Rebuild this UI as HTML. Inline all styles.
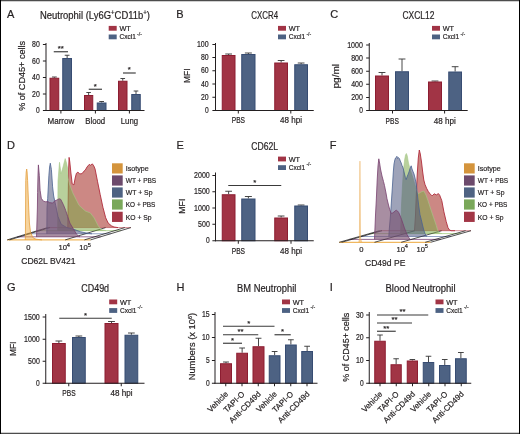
<!DOCTYPE html>
<html><head><meta charset="utf-8"><style>
html,body{margin:0;padding:0;background:#fff;}
body{width:520px;height:434px;overflow:hidden;position:relative;}
svg{position:absolute;left:0;top:0;will-change:transform;}
text{font-family:"Liberation Sans", sans-serif;stroke:#231f20;stroke-width:0.2px;paint-order:stroke;}
</style></head><body>
<svg width="520" height="434" viewBox="0 0 520 434">
<rect x="0" y="0" width="520" height="434" fill="#ffffff"/>
<line x1="7.20" y1="239.90" x2="90.50" y2="239.90" stroke="#f0b860" stroke-width="1.3"/>
<line x1="17.30" y1="236.82" x2="100.60" y2="236.82" stroke="#8a5a88" stroke-width="0.9"/>
<line x1="27.40" y1="233.74" x2="110.70" y2="233.74" stroke="#8a9ac0" stroke-width="0.9"/>
<line x1="37.50" y1="230.66" x2="120.80" y2="230.66" stroke="#b0d490" stroke-width="0.9"/>
<line x1="47.60" y1="227.58" x2="130.90" y2="227.58" stroke="#d08088" stroke-width="0.9"/>
<line x1="7.20" y1="239.90" x2="47.60" y2="227.58" stroke="#1a1a1a" stroke-width="0.75"/>
<line x1="9.50" y1="239.90" x2="49.90" y2="227.58" stroke="#1a1a1a" stroke-width="0.75"/>
<line x1="65.20" y1="239.90" x2="105.60" y2="227.58" stroke="#1a1a1a" stroke-width="0.75"/>
<line x1="84.40" y1="239.90" x2="124.80" y2="227.58" stroke="#1a1a1a" stroke-width="0.75"/>
<line x1="90.50" y1="239.90" x2="130.90" y2="227.58" stroke="#1a1a1a" stroke-width="0.75"/>
<path d="M67.80,227.60 L67.80,227.60 L68.20,200.00 L68.60,170.00 L69.10,157.40 L69.80,162.00 L70.80,172.00 L72.20,183.90 L73.90,184.80 L75.20,178.00 L76.40,173.30 L77.90,172.20 L79.60,173.70 L81.00,173.90 L82.40,173.30 L83.90,171.20 L85.30,170.10 L87.00,167.00 L89.20,164.40 L90.80,165.30 L92.30,163.80 L93.80,165.90 L95.10,169.10 L97.60,181.80 L100.20,194.50 L102.90,207.20 L105.70,217.80 L108.20,223.10 L111.40,225.80 L114.00,227.00 L118.00,227.60 L118.00,227.60 Z" fill="rgb(170,57,50)" fill-opacity="0.6" stroke="none"/><path d="M67.80,227.60 L68.20,200.00 L68.60,170.00 L69.10,157.40 L69.80,162.00 L70.80,172.00 L72.20,183.90 L73.90,184.80 L75.20,178.00 L76.40,173.30 L77.90,172.20 L79.60,173.70 L81.00,173.90 L82.40,173.30 L83.90,171.20 L85.30,170.10 L87.00,167.00 L89.20,164.40 L90.80,165.30 L92.30,163.80 L93.80,165.90 L95.10,169.10 L97.60,181.80 L100.20,194.50 L102.90,207.20 L105.70,217.80 L108.20,223.10 L111.40,225.80 L114.00,227.00 L118.00,227.60" fill="none" stroke="#b02c3c" stroke-width="0.9" stroke-opacity="1.0" stroke-linejoin="round"/>
<path d="M57.60,230.70 L57.60,230.70 L57.80,208.00 L58.00,181.00 L59.50,162.30 L61.10,173.80 L63.00,167.00 L65.20,158.60 L66.50,163.00 L67.50,168.00 L68.20,178.00 L69.50,184.00 L72.70,192.70 L79.00,205.30 L85.30,211.00 L90.40,213.00 L94.20,218.00 L98.00,225.60 L101.00,229.60 L106.00,230.70 L106.00,230.70 Z" fill="rgb(126,170,75)" fill-opacity="0.55" stroke="none"/><path d="M57.60,230.70 L57.80,208.00 L58.00,181.00 L59.50,162.30 L61.10,173.80 L63.00,167.00 L65.20,158.60 L66.50,163.00 L67.50,168.00 L68.20,178.00 L69.50,184.00 L72.70,192.70 L79.00,205.30 L85.30,211.00 L90.40,213.00 L94.20,218.00 L98.00,225.60 L101.00,229.60 L106.00,230.70" fill="none" stroke="#a6c98a" stroke-width="0.6" stroke-opacity="1.0" stroke-linejoin="round"/>
<path d="M46.80,233.80 L46.80,233.80 L47.00,208.00 L47.70,198.30 L48.90,175.30 L49.60,167.00 L50.30,163.20 L51.40,169.50 L52.60,186.80 L53.70,196.00 L54.90,201.80 L55.80,205.80 L58.00,216.60 L61.20,224.20 L66.60,227.50 L73.10,229.10 L80.70,231.80 L88.30,233.40 L92.00,233.80 L92.00,233.80 Z" fill="rgb(79,88,128)" fill-opacity="0.55" stroke="none"/><path d="M46.80,233.80 L47.00,208.00 L47.70,198.30 L48.90,175.30 L49.60,167.00 L50.30,163.20 L51.40,169.50 L52.60,186.80 L53.70,196.00 L54.90,201.80 L55.80,205.80 L58.00,216.60 L61.20,224.20 L66.60,227.50 L73.10,229.10 L80.70,231.80 L88.30,233.40 L92.00,233.80" fill="none" stroke="#4a6290" stroke-width="0.8" stroke-opacity="1.0" stroke-linejoin="round"/>
<path d="M36.50,236.90 L36.50,236.90 L37.40,208.00 L37.60,192.60 L38.00,175.00 L38.40,164.90 L39.30,175.30 L40.10,190.30 L41.30,198.30 L43.40,201.20 L45.70,201.80 L48.00,201.60 L49.30,202.60 L52.60,203.10 L54.70,201.00 L57.80,199.50 L59.10,198.80 L60.70,199.30 L63.40,204.70 L65.60,210.20 L67.70,216.60 L69.90,223.10 L73.10,228.50 L76.40,234.00 L78.50,236.10 L80.00,236.90 L80.00,236.90 Z" fill="rgb(121,81,112)" fill-opacity="0.65" stroke="none"/><path d="M36.50,236.90 L37.40,208.00 L37.60,192.60 L38.00,175.00 L38.40,164.90 L39.30,175.30 L40.10,190.30 L41.30,198.30 L43.40,201.20 L45.70,201.80 L48.00,201.60 L49.30,202.60 L52.60,203.10 L54.70,201.00 L57.80,199.50 L59.10,198.80 L60.70,199.30 L63.40,204.70 L65.60,210.20 L67.70,216.60 L69.90,223.10 L73.10,228.50 L76.40,234.00 L78.50,236.10 L80.00,236.90" fill="none" stroke="#77406f" stroke-width="0.8" stroke-opacity="1.0" stroke-linejoin="round"/>
<path d="M25.20,239.90 L25.20,239.90 L25.40,237.00 L25.75,180.50 L26.20,172.00 L26.70,169.00 L27.10,172.00 L27.60,180.50 L28.20,195.00 L28.70,208.00 L29.40,223.00 L30.50,232.00 L32.80,237.60 L36.00,239.20 L42.00,239.90 L42.00,239.90 Z" fill="rgb(240,170,60)" fill-opacity="0.5" stroke="none"/><path d="M25.20,239.90 L25.40,237.00 L25.75,180.50 L26.20,172.00 L26.70,169.00 L27.10,172.00 L27.60,180.50 L28.20,195.00 L28.70,208.00 L29.40,223.00 L30.50,232.00 L32.80,237.60 L36.00,239.20 L42.00,239.90" fill="none" stroke="#e3a040" stroke-width="0.8" stroke-opacity="1.0" stroke-linejoin="round"/>
<text x="28.3" y="250.0" font-size="7.6" text-anchor="middle" fill="#231f20" style="font-family:&quot;Liberation Sans&quot;, sans-serif">0</text>
<text x="64.2" y="250.0" font-size="7.6" text-anchor="middle" fill="#231f20" style="font-family:&quot;Liberation Sans&quot;, sans-serif">10<tspan font-size="5.6" dy="-3.2">4</tspan></text>
<text x="85.0" y="250.0" font-size="7.6" text-anchor="middle" fill="#231f20" style="font-family:&quot;Liberation Sans&quot;, sans-serif">10<tspan font-size="5.6" dy="-3.2">5</tspan></text>
<text x="21.25" y="264.3" font-size="9.5" textLength="54.3" lengthAdjust="spacingAndGlyphs" fill="#231f20" style="font-family:&quot;Liberation Sans&quot;, sans-serif">CD62L BV421</text>
<line x1="339.20" y1="242.30" x2="430.60" y2="242.30" stroke="#f0b860" stroke-width="1.3"/>
<line x1="349.30" y1="239.40" x2="440.70" y2="239.40" stroke="#8a5a88" stroke-width="0.9"/>
<line x1="359.40" y1="236.50" x2="450.80" y2="236.50" stroke="#8a9ac0" stroke-width="0.9"/>
<line x1="369.50" y1="233.60" x2="460.90" y2="233.60" stroke="#b0d490" stroke-width="0.9"/>
<line x1="379.60" y1="230.70" x2="471.00" y2="230.70" stroke="#d08088" stroke-width="0.9"/>
<line x1="339.20" y1="242.30" x2="379.60" y2="230.70" stroke="#1a1a1a" stroke-width="0.75"/>
<line x1="341.60" y1="242.30" x2="382.00" y2="230.70" stroke="#1a1a1a" stroke-width="0.75"/>
<line x1="374.50" y1="242.30" x2="414.90" y2="230.70" stroke="#1a1a1a" stroke-width="0.75"/>
<line x1="401.20" y1="242.30" x2="441.60" y2="230.70" stroke="#1a1a1a" stroke-width="0.75"/>
<line x1="425.20" y1="242.30" x2="465.60" y2="230.70" stroke="#1a1a1a" stroke-width="0.75"/>
<line x1="430.60" y1="242.30" x2="471.00" y2="230.70" stroke="#1a1a1a" stroke-width="0.75"/>
<path d="M414.50,230.70 L414.50,230.70 L415.50,215.00 L416.30,195.00 L417.20,175.00 L418.30,158.00 L419.30,150.00 L420.30,154.00 L421.50,162.00 L422.70,172.00 L423.80,180.00 L425.00,184.50 L426.60,188.30 L428.30,191.50 L430.00,193.80 L432.10,195.90 L434.20,193.80 L436.30,194.90 L438.40,193.60 L439.70,195.20 L441.80,200.70 L443.90,211.80 L446.20,221.50 L448.00,227.70 L449.40,229.80 L451.00,230.70 L455.00,230.70 L455.00,230.70 Z" fill="rgb(170,57,50)" fill-opacity="0.6" stroke="none"/><path d="M414.50,230.70 L415.50,215.00 L416.30,195.00 L417.20,175.00 L418.30,158.00 L419.30,150.00 L420.30,154.00 L421.50,162.00 L422.70,172.00 L423.80,180.00 L425.00,184.50 L426.60,188.30 L428.30,191.50 L430.00,193.80 L432.10,195.90 L434.20,193.80 L436.30,194.90 L438.40,193.60 L439.70,195.20 L441.80,200.70 L443.90,211.80 L446.20,221.50 L448.00,227.70 L449.40,229.80 L451.00,230.70 L455.00,230.70" fill="none" stroke="#b02c3c" stroke-width="0.9" stroke-opacity="1.0" stroke-linejoin="round"/>
<path d="M400.50,233.60 L400.50,233.60 L401.50,205.00 L402.50,185.00 L403.50,170.00 L404.60,160.00 L405.50,155.00 L406.40,153.50 L407.30,156.00 L408.30,162.00 L409.50,167.00 L411.00,172.00 L413.00,178.00 L415.00,185.00 L417.00,191.00 L418.30,193.80 L421.00,192.00 L423.80,191.00 L426.00,195.00 L428.00,200.70 L430.70,209.00 L433.50,217.30 L436.30,225.60 L437.70,230.50 L439.50,233.00 L442.00,233.60 L442.00,233.60 Z" fill="rgb(126,170,75)" fill-opacity="0.55" stroke="none"/><path d="M400.50,233.60 L401.50,205.00 L402.50,185.00 L403.50,170.00 L404.60,160.00 L405.50,155.00 L406.40,153.50 L407.30,156.00 L408.30,162.00 L409.50,167.00 L411.00,172.00 L413.00,178.00 L415.00,185.00 L417.00,191.00 L418.30,193.80 L421.00,192.00 L423.80,191.00 L426.00,195.00 L428.00,200.70 L430.70,209.00 L433.50,217.30 L436.30,225.60 L437.70,230.50 L439.50,233.00 L442.00,233.60" fill="none" stroke="#a6c98a" stroke-width="0.6" stroke-opacity="1.0" stroke-linejoin="round"/>
<path d="M388.80,236.50 L388.80,236.50 L389.30,229.00 L390.50,215.00 L391.50,200.00 L392.50,185.00 L393.30,172.00 L394.00,164.00 L394.80,160.00 L395.50,158.00 L396.20,157.50 L396.90,156.30 L397.60,158.50 L398.40,157.60 L399.40,158.50 L400.30,161.00 L401.20,163.00 L402.00,165.50 L402.80,167.00 L403.60,170.00 L404.50,174.00 L405.40,177.50 L406.20,179.60 L407.00,177.00 L408.00,174.50 L409.00,172.00 L410.20,168.00 L411.20,165.80 L412.00,169.00 L413.00,171.50 L414.00,174.00 L415.00,178.00 L416.25,184.00 L417.30,194.00 L418.75,206.00 L420.00,214.70 L421.25,219.50 L422.50,225.00 L423.75,230.00 L425.00,233.50 L426.50,236.50 L426.50,236.50 Z" fill="rgb(79,88,128)" fill-opacity="0.55" stroke="none"/><path d="M388.80,236.50 L389.30,229.00 L390.50,215.00 L391.50,200.00 L392.50,185.00 L393.30,172.00 L394.00,164.00 L394.80,160.00 L395.50,158.00 L396.20,157.50 L396.90,156.30 L397.60,158.50 L398.40,157.60 L399.40,158.50 L400.30,161.00 L401.20,163.00 L402.00,165.50 L402.80,167.00 L403.60,170.00 L404.50,174.00 L405.40,177.50 L406.20,179.60 L407.00,177.00 L408.00,174.50 L409.00,172.00 L410.20,168.00 L411.20,165.80 L412.00,169.00 L413.00,171.50 L414.00,174.00 L415.00,178.00 L416.25,184.00 L417.30,194.00 L418.75,206.00 L420.00,214.70 L421.25,219.50 L422.50,225.00 L423.75,230.00 L425.00,233.50 L426.50,236.50" fill="none" stroke="#4a6290" stroke-width="0.8" stroke-opacity="1.0" stroke-linejoin="round"/>
<path d="M374.50,239.40 L374.50,239.40 L374.80,232.00 L375.50,215.00 L376.30,200.00 L377.20,180.00 L378.00,166.00 L378.80,158.80 L379.60,163.00 L380.50,169.00 L382.00,176.00 L383.50,181.50 L384.50,185.50 L386.00,193.00 L387.00,198.80 L388.50,205.00 L389.80,209.90 L391.20,213.40 L392.50,213.00 L394.00,212.00 L395.50,210.60 L396.50,210.30 L397.50,211.00 L398.80,212.70 L400.20,216.00 L401.60,219.60 L403.00,223.70 L404.40,227.90 L405.80,231.50 L407.10,234.80 L409.20,238.20 L410.50,239.40 L410.50,239.40 Z" fill="rgb(121,81,112)" fill-opacity="0.65" stroke="none"/><path d="M374.50,239.40 L374.80,232.00 L375.50,215.00 L376.30,200.00 L377.20,180.00 L378.00,166.00 L378.80,158.80 L379.60,163.00 L380.50,169.00 L382.00,176.00 L383.50,181.50 L384.50,185.50 L386.00,193.00 L387.00,198.80 L388.50,205.00 L389.80,209.90 L391.20,213.40 L392.50,213.00 L394.00,212.00 L395.50,210.60 L396.50,210.30 L397.50,211.00 L398.80,212.70 L400.20,216.00 L401.60,219.60 L403.00,223.70 L404.40,227.90 L405.80,231.50 L407.10,234.80 L409.20,238.20 L410.50,239.40" fill="none" stroke="#77406f" stroke-width="0.8" stroke-opacity="1.0" stroke-linejoin="round"/>
<path d="M358.80,242.30 L358.80,242.30 L359.40,238.00 L359.70,200.00 L359.95,161.10 L360.20,200.00 L360.50,238.00 L361.50,241.50 L362.50,242.30 L362.50,242.30 Z" fill="rgb(240,170,60)" fill-opacity="0.5" stroke="none"/><path d="M358.80,242.30 L359.40,238.00 L359.70,200.00 L359.95,161.10 L360.20,200.00 L360.50,238.00 L361.50,241.50 L362.50,242.30" fill="none" stroke="#eab060" stroke-width="0.5" stroke-opacity="1.0" stroke-linejoin="round"/>
<text x="361.3" y="251.6" font-size="7.6" text-anchor="middle" fill="#231f20" style="font-family:&quot;Liberation Sans&quot;, sans-serif">0</text>
<text x="402.2" y="251.6" font-size="7.6" text-anchor="middle" fill="#231f20" style="font-family:&quot;Liberation Sans&quot;, sans-serif">10<tspan font-size="5.6" dy="-3.2">4</tspan></text>
<text x="422.2" y="251.6" font-size="7.6" text-anchor="middle" fill="#231f20" style="font-family:&quot;Liberation Sans&quot;, sans-serif">10<tspan font-size="5.6" dy="-3.2">5</tspan></text>
<text x="365" y="265.8" font-size="9.5" textLength="40.4" lengthAdjust="spacingAndGlyphs" fill="#231f20" style="font-family:&quot;Liberation Sans&quot;, sans-serif">CD49d PE</text>
<text x="7.0" y="18.0" font-size="11" fill="#231f20" style="font-family:"Liberation Sans", sans-serif">A</text>
<text x="176.3" y="18.0" font-size="11" fill="#231f20" style="font-family:"Liberation Sans", sans-serif">B</text>
<text x="330.3" y="18.0" font-size="11" fill="#231f20" style="font-family:"Liberation Sans", sans-serif">C</text>
<text x="7.0" y="148.6" font-size="11" fill="#231f20" style="font-family:"Liberation Sans", sans-serif">D</text>
<text x="176.4" y="148.6" font-size="11" fill="#231f20" style="font-family:"Liberation Sans", sans-serif">E</text>
<text x="329.8" y="148.6" font-size="11" fill="#231f20" style="font-family:"Liberation Sans", sans-serif">F</text>
<text x="7.0" y="291.4" font-size="11" fill="#231f20" style="font-family:"Liberation Sans", sans-serif">G</text>
<text x="176.4" y="291.4" font-size="11" fill="#231f20" style="font-family:"Liberation Sans", sans-serif">H</text>
<text x="329.8" y="291.4" font-size="11" fill="#231f20" style="font-family:"Liberation Sans", sans-serif">I</text>
<text x="40" y="18.8" font-size="10" textLength="110" lengthAdjust="spacingAndGlyphs" fill="#231f20" style="font-family:"Liberation Sans", sans-serif">Neutrophil (Ly6G<tspan font-size="6.5" dy="-3.5">+</tspan><tspan dy="3.5">CD11b</tspan><tspan font-size="6.5" dy="-3.5">+</tspan><tspan dy="3.5">)</tspan></text>
<rect x="108.7" y="25.9" width="8" height="4.8" fill="#a13445"/>
<rect x="108.7" y="34.5" width="8" height="4.8" fill="#4d6283"/>
<text x="119.4" y="30.9" font-size="7.3" fill="#231f20" style="font-family:"Liberation Sans", sans-serif">WT</text>
<text x="119.4" y="39.099999999999994" font-size="7.3" textLength="16.4" lengthAdjust="spacingAndGlyphs" fill="#231f20" style="font-family:"Liberation Sans", sans-serif">Cxcl1</text>
<text x="137.1" y="35.5" font-size="4.6" textLength="4.8" lengthAdjust="spacingAndGlyphs" fill="#555" style="font-family:"Liberation Sans", sans-serif">-/-</text>
<text transform="translate(24.9,75.85) rotate(-90)" x="0" y="0" font-size="9.8" text-anchor="middle" textLength="70" lengthAdjust="spacingAndGlyphs" fill="#231f20" style="font-family:"Liberation Sans", sans-serif">% of CD45+ cells</text>
<line x1="46" y1="43" x2="46" y2="111.0" stroke="#231f20" stroke-width="1"/>
<line x1="42.9" y1="44.5" x2="46" y2="44.5" stroke="#231f20" stroke-width="1"/>
<text x="39.8" y="47.0" font-size="8.4" text-anchor="end" textLength="7.7" lengthAdjust="spacingAndGlyphs" fill="#231f20" style="font-family:"Liberation Sans", sans-serif">80</text>
<line x1="42.9" y1="61" x2="46" y2="61" stroke="#231f20" stroke-width="1"/>
<text x="39.8" y="63.5" font-size="8.4" text-anchor="end" textLength="7.7" lengthAdjust="spacingAndGlyphs" fill="#231f20" style="font-family:"Liberation Sans", sans-serif">60</text>
<line x1="42.9" y1="77.5" x2="46" y2="77.5" stroke="#231f20" stroke-width="1"/>
<text x="39.8" y="80.0" font-size="8.4" text-anchor="end" textLength="7.7" lengthAdjust="spacingAndGlyphs" fill="#231f20" style="font-family:"Liberation Sans", sans-serif">40</text>
<line x1="42.9" y1="94" x2="46" y2="94" stroke="#231f20" stroke-width="1"/>
<text x="39.8" y="96.5" font-size="8.4" text-anchor="end" textLength="7.7" lengthAdjust="spacingAndGlyphs" fill="#231f20" style="font-family:"Liberation Sans", sans-serif">20</text>
<line x1="42.9" y1="110.5" x2="46" y2="110.5" stroke="#231f20" stroke-width="1"/>
<text x="39.8" y="113.0" font-size="8.4" text-anchor="end" textLength="3.7" lengthAdjust="spacingAndGlyphs" fill="#231f20" style="font-family:"Liberation Sans", sans-serif">0</text>
<line x1="54.375" y1="77.75" x2="54.375" y2="77" stroke="#333" stroke-width="0.9"/>
<line x1="51.98625" y1="77" x2="56.76375" y2="77" stroke="#333" stroke-width="0.9"/>
<rect x="50.0" y="78.25" width="8.75" height="32.25" fill="#a13445" stroke="#8c1d31" stroke-width="1"/>
<line x1="67.125" y1="58" x2="67.125" y2="55.25" stroke="#333" stroke-width="0.9"/>
<line x1="64.73625" y1="55.25" x2="69.51375" y2="55.25" stroke="#333" stroke-width="0.9"/>
<rect x="62.75" y="58.5" width="8.75" height="52.0" fill="#4d6283" stroke="#374c72" stroke-width="1"/>
<line x1="88.625" y1="95" x2="88.625" y2="92.5" stroke="#333" stroke-width="0.9"/>
<line x1="86.35875" y1="92.5" x2="90.89125" y2="92.5" stroke="#333" stroke-width="0.9"/>
<rect x="84.5" y="95.5" width="8.25" height="15.0" fill="#a13445" stroke="#8c1d31" stroke-width="1"/>
<line x1="101.625" y1="102.5" x2="101.625" y2="101.5" stroke="#333" stroke-width="0.9"/>
<line x1="99.23625" y1="101.5" x2="104.01375" y2="101.5" stroke="#333" stroke-width="0.9"/>
<rect x="97.25" y="103.0" width="8.75" height="7.5" fill="#4d6283" stroke="#374c72" stroke-width="1"/>
<line x1="122.75" y1="80.75" x2="122.75" y2="78.5" stroke="#333" stroke-width="0.9"/>
<line x1="120.4225" y1="78.5" x2="125.0775" y2="78.5" stroke="#333" stroke-width="0.9"/>
<rect x="118.5" y="81.25" width="8.5" height="29.25" fill="#a13445" stroke="#8c1d31" stroke-width="1"/>
<line x1="136.0" y1="94" x2="136.0" y2="91" stroke="#333" stroke-width="0.9"/>
<line x1="133.6725" y1="91" x2="138.3275" y2="91" stroke="#333" stroke-width="0.9"/>
<rect x="131.75" y="94.5" width="8.5" height="16.0" fill="#4d6283" stroke="#374c72" stroke-width="1"/>
<line x1="45.5" y1="110.5" x2="144.5" y2="110.5" stroke="#231f20" stroke-width="1"/>
<line x1="60.9" y1="110.5" x2="60.9" y2="113.5" stroke="#231f20" stroke-width="1"/>
<line x1="95.4" y1="110.5" x2="95.4" y2="113.5" stroke="#231f20" stroke-width="1"/>
<line x1="129.4" y1="110.5" x2="129.4" y2="113.5" stroke="#231f20" stroke-width="1"/>
<text x="60.9" y="123.8" font-size="8.5" text-anchor="middle" textLength="26.8" lengthAdjust="spacingAndGlyphs" fill="#231f20" style="font-family:"Liberation Sans", sans-serif">Marrow</text>
<text x="95.2" y="123.8" font-size="8.5" text-anchor="middle" textLength="20" lengthAdjust="spacingAndGlyphs" fill="#231f20" style="font-family:"Liberation Sans", sans-serif">Blood</text>
<text x="129.4" y="123.8" font-size="8.5" text-anchor="middle" textLength="17.3" lengthAdjust="spacingAndGlyphs" fill="#231f20" style="font-family:"Liberation Sans", sans-serif">Lung</text>
<line x1="53.75" y1="51.75" x2="68" y2="51.75" stroke="#3a3a3a" stroke-width="1.15"/>
<text x="60.875" y="51.15" font-size="7.8" text-anchor="middle" fill="#231f20" style="font-family:"Liberation Sans", sans-serif">**</text>
<line x1="88.75" y1="89.25" x2="102" y2="89.25" stroke="#3a3a3a" stroke-width="1.15"/>
<text x="95.375" y="88.65" font-size="7.8" text-anchor="middle" fill="#231f20" style="font-family:"Liberation Sans", sans-serif">*</text>
<line x1="123" y1="73" x2="135.75" y2="73" stroke="#3a3a3a" stroke-width="1.15"/>
<text x="129.375" y="72.4" font-size="7.8" text-anchor="middle" fill="#231f20" style="font-family:"Liberation Sans", sans-serif">*</text>
<text x="251.25" y="18.9" font-size="10.0" textLength="26.8" lengthAdjust="spacingAndGlyphs" fill="#231f20" style="font-family:"Liberation Sans", sans-serif">CXCR4</text>
<rect x="278" y="25.9" width="8" height="4.8" fill="#a13445"/>
<rect x="278" y="34.5" width="8" height="4.8" fill="#4d6283"/>
<text x="288.7" y="30.9" font-size="7.3" fill="#231f20" style="font-family:"Liberation Sans", sans-serif">WT</text>
<text x="288.7" y="39.099999999999994" font-size="7.3" textLength="16.4" lengthAdjust="spacingAndGlyphs" fill="#231f20" style="font-family:"Liberation Sans", sans-serif">Cxcl1</text>
<text x="306.4" y="35.5" font-size="4.6" textLength="4.8" lengthAdjust="spacingAndGlyphs" fill="#555" style="font-family:"Liberation Sans", sans-serif">-/-</text>
<text transform="translate(189.9,75.75) rotate(-90)" x="0" y="0" font-size="9.4" text-anchor="middle" textLength="14.5" lengthAdjust="spacingAndGlyphs" fill="#231f20" style="font-family:"Liberation Sans", sans-serif">MFI</text>
<line x1="215.5" y1="43" x2="215.5" y2="111.0" stroke="#231f20" stroke-width="1"/>
<line x1="212.4" y1="44.5" x2="215.5" y2="44.5" stroke="#231f20" stroke-width="1"/>
<text x="208.6" y="47.0" font-size="8.4" text-anchor="end" textLength="11.7" lengthAdjust="spacingAndGlyphs" fill="#231f20" style="font-family:"Liberation Sans", sans-serif">100</text>
<line x1="212.4" y1="57.5" x2="215.5" y2="57.5" stroke="#231f20" stroke-width="1"/>
<text x="208.6" y="60.0" font-size="8.4" text-anchor="end" textLength="7.7" lengthAdjust="spacingAndGlyphs" fill="#231f20" style="font-family:"Liberation Sans", sans-serif">80</text>
<line x1="212.4" y1="70.75" x2="215.5" y2="70.75" stroke="#231f20" stroke-width="1"/>
<text x="208.6" y="73.25" font-size="8.4" text-anchor="end" textLength="7.7" lengthAdjust="spacingAndGlyphs" fill="#231f20" style="font-family:"Liberation Sans", sans-serif">60</text>
<line x1="212.4" y1="84" x2="215.5" y2="84" stroke="#231f20" stroke-width="1"/>
<text x="208.6" y="86.5" font-size="8.4" text-anchor="end" textLength="7.7" lengthAdjust="spacingAndGlyphs" fill="#231f20" style="font-family:"Liberation Sans", sans-serif">40</text>
<line x1="212.4" y1="97.25" x2="215.5" y2="97.25" stroke="#231f20" stroke-width="1"/>
<text x="208.6" y="99.75" font-size="8.4" text-anchor="end" textLength="7.7" lengthAdjust="spacingAndGlyphs" fill="#231f20" style="font-family:"Liberation Sans", sans-serif">20</text>
<line x1="212.4" y1="110.5" x2="215.5" y2="110.5" stroke="#231f20" stroke-width="1"/>
<text x="208.6" y="113.0" font-size="8.4" text-anchor="end" textLength="3.7" lengthAdjust="spacingAndGlyphs" fill="#231f20" style="font-family:"Liberation Sans", sans-serif">0</text>
<line x1="228.625" y1="55" x2="228.625" y2="54" stroke="#333" stroke-width="0.9"/>
<line x1="225.25625" y1="54" x2="231.99375" y2="54" stroke="#333" stroke-width="0.9"/>
<rect x="222.25" y="55.5" width="12.75" height="55.0" fill="#a13445" stroke="#8c1d31" stroke-width="1"/>
<line x1="248.375" y1="54" x2="248.375" y2="53" stroke="#333" stroke-width="0.9"/>
<line x1="244.88375" y1="53" x2="251.86625" y2="53" stroke="#333" stroke-width="0.9"/>
<rect x="241.75" y="54.5" width="13.25" height="56.0" fill="#4d6283" stroke="#374c72" stroke-width="1"/>
<line x1="281.125" y1="62.5" x2="281.125" y2="60.5" stroke="#333" stroke-width="0.9"/>
<line x1="277.75625" y1="60.5" x2="284.49375" y2="60.5" stroke="#333" stroke-width="0.9"/>
<rect x="274.75" y="63.0" width="12.75" height="47.5" fill="#a13445" stroke="#8c1d31" stroke-width="1"/>
<line x1="301.125" y1="64.25" x2="301.125" y2="63" stroke="#333" stroke-width="0.9"/>
<line x1="297.75625" y1="63" x2="304.49375" y2="63" stroke="#333" stroke-width="0.9"/>
<rect x="294.75" y="64.75" width="12.75" height="45.75" fill="#4d6283" stroke="#374c72" stroke-width="1"/>
<line x1="215.0" y1="110.5" x2="313.75" y2="110.5" stroke="#231f20" stroke-width="1"/>
<line x1="238.3" y1="110.5" x2="238.3" y2="113.5" stroke="#231f20" stroke-width="1"/>
<line x1="290.8" y1="110.5" x2="290.8" y2="113.5" stroke="#231f20" stroke-width="1"/>
<text x="238.4" y="123.3" font-size="8.5" text-anchor="middle" textLength="13.3" lengthAdjust="spacingAndGlyphs" fill="#231f20" style="font-family:"Liberation Sans", sans-serif">PBS</text>
<text x="291" y="123.3" font-size="8.5" text-anchor="middle" textLength="22" lengthAdjust="spacingAndGlyphs" fill="#231f20" style="font-family:"Liberation Sans", sans-serif">48 hpi</text>
<text x="402.5" y="18.9" font-size="10.0" textLength="32" lengthAdjust="spacingAndGlyphs" fill="#231f20" style="font-family:"Liberation Sans", sans-serif">CXCL12</text>
<rect x="432" y="25.9" width="8" height="4.8" fill="#a13445"/>
<rect x="432" y="34.5" width="8" height="4.8" fill="#4d6283"/>
<text x="442.7" y="30.9" font-size="7.3" fill="#231f20" style="font-family:"Liberation Sans", sans-serif">WT</text>
<text x="442.7" y="39.099999999999994" font-size="7.3" textLength="16.4" lengthAdjust="spacingAndGlyphs" fill="#231f20" style="font-family:"Liberation Sans", sans-serif">Cxcl1</text>
<text x="460.4" y="35.5" font-size="4.6" textLength="4.8" lengthAdjust="spacingAndGlyphs" fill="#555" style="font-family:"Liberation Sans", sans-serif">-/-</text>
<text transform="translate(338.9,76.25) rotate(-90)" x="0" y="0" font-size="9" text-anchor="middle" textLength="24.5" lengthAdjust="spacingAndGlyphs" fill="#231f20" style="font-family:"Liberation Sans", sans-serif">pg/ml</text>
<line x1="369.25" y1="43" x2="369.25" y2="111.0" stroke="#231f20" stroke-width="1"/>
<line x1="366.15" y1="45" x2="369.25" y2="45" stroke="#231f20" stroke-width="1"/>
<text x="362.9" y="47.5" font-size="8.4" text-anchor="end" textLength="15.7" lengthAdjust="spacingAndGlyphs" fill="#231f20" style="font-family:"Liberation Sans", sans-serif">1000</text>
<line x1="366.15" y1="58" x2="369.25" y2="58" stroke="#231f20" stroke-width="1"/>
<text x="362.9" y="60.5" font-size="8.4" text-anchor="end" textLength="11.7" lengthAdjust="spacingAndGlyphs" fill="#231f20" style="font-family:"Liberation Sans", sans-serif">800</text>
<line x1="366.15" y1="71.25" x2="369.25" y2="71.25" stroke="#231f20" stroke-width="1"/>
<text x="362.9" y="73.75" font-size="8.4" text-anchor="end" textLength="11.7" lengthAdjust="spacingAndGlyphs" fill="#231f20" style="font-family:"Liberation Sans", sans-serif">600</text>
<line x1="366.15" y1="84.25" x2="369.25" y2="84.25" stroke="#231f20" stroke-width="1"/>
<text x="362.9" y="86.75" font-size="8.4" text-anchor="end" textLength="11.7" lengthAdjust="spacingAndGlyphs" fill="#231f20" style="font-family:"Liberation Sans", sans-serif">400</text>
<line x1="366.15" y1="97.5" x2="369.25" y2="97.5" stroke="#231f20" stroke-width="1"/>
<text x="362.9" y="100.0" font-size="8.4" text-anchor="end" textLength="11.7" lengthAdjust="spacingAndGlyphs" fill="#231f20" style="font-family:"Liberation Sans", sans-serif">200</text>
<line x1="366.15" y1="110.5" x2="369.25" y2="110.5" stroke="#231f20" stroke-width="1"/>
<text x="362.9" y="113.0" font-size="8.4" text-anchor="end" textLength="3.7" lengthAdjust="spacingAndGlyphs" fill="#231f20" style="font-family:"Liberation Sans", sans-serif">0</text>
<line x1="382.0" y1="75.5" x2="382.0" y2="72.5" stroke="#333" stroke-width="0.9"/>
<line x1="378.57" y1="72.5" x2="385.43" y2="72.5" stroke="#333" stroke-width="0.9"/>
<rect x="375.5" y="76.0" width="13" height="34.5" fill="#a13445" stroke="#8c1d31" stroke-width="1"/>
<line x1="402.0" y1="71.25" x2="402.0" y2="59" stroke="#333" stroke-width="0.9"/>
<line x1="398.57" y1="59" x2="405.43" y2="59" stroke="#333" stroke-width="0.9"/>
<rect x="395.5" y="71.75" width="13" height="38.75" fill="#4d6283" stroke="#374c72" stroke-width="1"/>
<line x1="435.0" y1="81.5" x2="435.0" y2="81" stroke="#333" stroke-width="0.9"/>
<line x1="431.57" y1="81" x2="438.43" y2="81" stroke="#333" stroke-width="0.9"/>
<rect x="428.5" y="82.0" width="13" height="28.5" fill="#a13445" stroke="#8c1d31" stroke-width="1"/>
<line x1="455.125" y1="71.5" x2="455.125" y2="66.7" stroke="#333" stroke-width="0.9"/>
<line x1="451.75625" y1="66.7" x2="458.49375" y2="66.7" stroke="#333" stroke-width="0.9"/>
<rect x="448.75" y="72.0" width="12.75" height="38.5" fill="#4d6283" stroke="#374c72" stroke-width="1"/>
<line x1="368.75" y1="110.5" x2="467.7" y2="110.5" stroke="#231f20" stroke-width="1"/>
<line x1="392.5" y1="110.5" x2="392.5" y2="113.5" stroke="#231f20" stroke-width="1"/>
<line x1="444.6" y1="110.5" x2="444.6" y2="113.5" stroke="#231f20" stroke-width="1"/>
<text x="392.2" y="123.5" font-size="8.5" text-anchor="middle" textLength="13.3" lengthAdjust="spacingAndGlyphs" fill="#231f20" style="font-family:"Liberation Sans", sans-serif">PBS</text>
<text x="444.7" y="123.5" font-size="8.5" text-anchor="middle" textLength="22" lengthAdjust="spacingAndGlyphs" fill="#231f20" style="font-family:"Liberation Sans", sans-serif">48 hpi</text>
<text x="251.25" y="149.7" font-size="10.0" textLength="26.8" lengthAdjust="spacingAndGlyphs" fill="#231f20" style="font-family:"Liberation Sans", sans-serif">CD62L</text>
<rect x="278" y="156.6" width="8" height="4.8" fill="#a13445"/>
<rect x="278" y="165.2" width="8" height="4.8" fill="#4d6283"/>
<text x="288.7" y="161.6" font-size="7.3" fill="#231f20" style="font-family:"Liberation Sans", sans-serif">WT</text>
<text x="288.7" y="169.79999999999998" font-size="7.3" textLength="16.4" lengthAdjust="spacingAndGlyphs" fill="#231f20" style="font-family:"Liberation Sans", sans-serif">Cxcl1</text>
<text x="306.4" y="166.2" font-size="4.6" textLength="4.8" lengthAdjust="spacingAndGlyphs" fill="#555" style="font-family:"Liberation Sans", sans-serif">-/-</text>
<text transform="translate(185.2,206.15) rotate(-90)" x="0" y="0" font-size="9.4" text-anchor="middle" textLength="15" lengthAdjust="spacingAndGlyphs" fill="#231f20" style="font-family:"Liberation Sans", sans-serif">MFI</text>
<line x1="215.5" y1="172.5" x2="215.5" y2="241.25" stroke="#231f20" stroke-width="1"/>
<line x1="212.4" y1="175.5" x2="215.5" y2="175.5" stroke="#231f20" stroke-width="1"/>
<text x="209.8" y="178.0" font-size="8.4" text-anchor="end" textLength="15.7" lengthAdjust="spacingAndGlyphs" fill="#231f20" style="font-family:"Liberation Sans", sans-serif">2000</text>
<line x1="212.4" y1="191.75" x2="215.5" y2="191.75" stroke="#231f20" stroke-width="1"/>
<text x="209.8" y="194.25" font-size="8.4" text-anchor="end" textLength="15.7" lengthAdjust="spacingAndGlyphs" fill="#231f20" style="font-family:"Liberation Sans", sans-serif">1500</text>
<line x1="212.4" y1="208" x2="215.5" y2="208" stroke="#231f20" stroke-width="1"/>
<text x="209.8" y="210.5" font-size="8.4" text-anchor="end" textLength="15.7" lengthAdjust="spacingAndGlyphs" fill="#231f20" style="font-family:"Liberation Sans", sans-serif">1000</text>
<line x1="212.4" y1="224.25" x2="215.5" y2="224.25" stroke="#231f20" stroke-width="1"/>
<text x="209.8" y="226.75" font-size="8.4" text-anchor="end" textLength="11.7" lengthAdjust="spacingAndGlyphs" fill="#231f20" style="font-family:"Liberation Sans", sans-serif">500</text>
<line x1="212.4" y1="240.75" x2="215.5" y2="240.75" stroke="#231f20" stroke-width="1"/>
<text x="209.8" y="243.25" font-size="8.4" text-anchor="end" textLength="3.7" lengthAdjust="spacingAndGlyphs" fill="#231f20" style="font-family:"Liberation Sans", sans-serif">0</text>
<line x1="228.625" y1="194.25" x2="228.625" y2="191.25" stroke="#333" stroke-width="0.9"/>
<line x1="225.25625" y1="191.25" x2="231.99375" y2="191.25" stroke="#333" stroke-width="0.9"/>
<rect x="222.25" y="194.75" width="12.75" height="46.0" fill="#a13445" stroke="#8c1d31" stroke-width="1"/>
<line x1="248.375" y1="198.5" x2="248.375" y2="196.5" stroke="#333" stroke-width="0.9"/>
<line x1="244.88375" y1="196.5" x2="251.86625" y2="196.5" stroke="#333" stroke-width="0.9"/>
<rect x="241.75" y="199.0" width="13.25" height="41.75" fill="#4d6283" stroke="#374c72" stroke-width="1"/>
<line x1="281.125" y1="217.5" x2="281.125" y2="216" stroke="#333" stroke-width="0.9"/>
<line x1="277.75625" y1="216" x2="284.49375" y2="216" stroke="#333" stroke-width="0.9"/>
<rect x="274.75" y="218.0" width="12.75" height="22.75" fill="#a13445" stroke="#8c1d31" stroke-width="1"/>
<line x1="301.125" y1="205.5" x2="301.125" y2="205" stroke="#333" stroke-width="0.9"/>
<line x1="297.75625" y1="205" x2="304.49375" y2="205" stroke="#333" stroke-width="0.9"/>
<rect x="294.75" y="206.0" width="12.75" height="34.75" fill="#4d6283" stroke="#374c72" stroke-width="1"/>
<line x1="215.0" y1="240.75" x2="313.75" y2="240.75" stroke="#231f20" stroke-width="1"/>
<line x1="238.3" y1="240.75" x2="238.3" y2="243.75" stroke="#231f20" stroke-width="1"/>
<line x1="291" y1="240.75" x2="291" y2="243.75" stroke="#231f20" stroke-width="1"/>
<text x="238.4" y="253.8" font-size="8.5" text-anchor="middle" textLength="13.3" lengthAdjust="spacingAndGlyphs" fill="#231f20" style="font-family:"Liberation Sans", sans-serif">PBS</text>
<text x="291" y="253.8" font-size="8.5" text-anchor="middle" textLength="22" lengthAdjust="spacingAndGlyphs" fill="#231f20" style="font-family:"Liberation Sans", sans-serif">48 hpi</text>
<line x1="228.25" y1="185.5" x2="281.25" y2="185.5" stroke="#3a3a3a" stroke-width="1.15"/>
<text x="254.75" y="184.9" font-size="7.8" text-anchor="middle" fill="#231f20" style="font-family:"Liberation Sans", sans-serif">*</text>
<text x="81.3" y="292.3" font-size="10.0" textLength="27.8" lengthAdjust="spacingAndGlyphs" fill="#231f20" style="font-family:"Liberation Sans", sans-serif">CD49d</text>
<rect x="109.2" y="299.5" width="8" height="4.8" fill="#a13445"/>
<rect x="109.2" y="308.1" width="8" height="4.8" fill="#4d6283"/>
<text x="119.9" y="304.5" font-size="7.3" fill="#231f20" style="font-family:"Liberation Sans", sans-serif">WT</text>
<text x="119.9" y="312.7" font-size="7.3" textLength="16.4" lengthAdjust="spacingAndGlyphs" fill="#231f20" style="font-family:"Liberation Sans", sans-serif">Cxcl1</text>
<text x="137.6" y="309.1" font-size="4.6" textLength="4.8" lengthAdjust="spacingAndGlyphs" fill="#555" style="font-family:"Liberation Sans", sans-serif">-/-</text>
<text transform="translate(15.5,348.85) rotate(-90)" x="0" y="0" font-size="9.4" text-anchor="middle" textLength="14.5" lengthAdjust="spacingAndGlyphs" fill="#231f20" style="font-family:"Liberation Sans", sans-serif">MFI</text>
<line x1="45.75" y1="314" x2="45.75" y2="383.75" stroke="#231f20" stroke-width="1"/>
<line x1="42.65" y1="317" x2="45.75" y2="317" stroke="#231f20" stroke-width="1"/>
<text x="39.8" y="319.5" font-size="8.4" text-anchor="end" textLength="15.7" lengthAdjust="spacingAndGlyphs" fill="#231f20" style="font-family:"Liberation Sans", sans-serif">1500</text>
<line x1="42.65" y1="339.25" x2="45.75" y2="339.25" stroke="#231f20" stroke-width="1"/>
<text x="39.8" y="341.75" font-size="8.4" text-anchor="end" textLength="15.7" lengthAdjust="spacingAndGlyphs" fill="#231f20" style="font-family:"Liberation Sans", sans-serif">1000</text>
<line x1="42.65" y1="361.25" x2="45.75" y2="361.25" stroke="#231f20" stroke-width="1"/>
<text x="39.8" y="363.75" font-size="8.4" text-anchor="end" textLength="11.7" lengthAdjust="spacingAndGlyphs" fill="#231f20" style="font-family:"Liberation Sans", sans-serif">500</text>
<line x1="42.65" y1="383.25" x2="45.75" y2="383.25" stroke="#231f20" stroke-width="1"/>
<text x="39.8" y="385.75" font-size="8.4" text-anchor="end" textLength="3.7" lengthAdjust="spacingAndGlyphs" fill="#231f20" style="font-family:"Liberation Sans", sans-serif">0</text>
<line x1="58.875" y1="343" x2="58.875" y2="341" stroke="#333" stroke-width="0.9"/>
<line x1="55.50625" y1="341" x2="62.24375" y2="341" stroke="#333" stroke-width="0.9"/>
<rect x="52.5" y="343.5" width="12.75" height="39.75" fill="#a13445" stroke="#8c1d31" stroke-width="1"/>
<line x1="78.875" y1="337" x2="78.875" y2="336" stroke="#333" stroke-width="0.9"/>
<line x1="75.50625" y1="336" x2="82.24375" y2="336" stroke="#333" stroke-width="0.9"/>
<rect x="72.5" y="337.5" width="12.75" height="45.75" fill="#4d6283" stroke="#374c72" stroke-width="1"/>
<line x1="111.5" y1="323" x2="111.5" y2="321.5" stroke="#333" stroke-width="0.9"/>
<line x1="108.07" y1="321.5" x2="114.93" y2="321.5" stroke="#333" stroke-width="0.9"/>
<rect x="105.0" y="323.5" width="13.0" height="59.75" fill="#a13445" stroke="#8c1d31" stroke-width="1"/>
<line x1="131.375" y1="334.75" x2="131.375" y2="333" stroke="#333" stroke-width="0.9"/>
<line x1="128.00625" y1="333" x2="134.74375" y2="333" stroke="#333" stroke-width="0.9"/>
<rect x="125.0" y="335.25" width="12.75" height="48.0" fill="#4d6283" stroke="#374c72" stroke-width="1"/>
<line x1="45.25" y1="383.25" x2="144.5" y2="383.25" stroke="#231f20" stroke-width="1"/>
<line x1="68.75" y1="383.25" x2="68.75" y2="386.25" stroke="#231f20" stroke-width="1"/>
<line x1="121.25" y1="383.25" x2="121.25" y2="386.25" stroke="#231f20" stroke-width="1"/>
<text x="69" y="396.3" font-size="8.5" text-anchor="middle" textLength="13.3" lengthAdjust="spacingAndGlyphs" fill="#231f20" style="font-family:"Liberation Sans", sans-serif">PBS</text>
<text x="121.5" y="396.3" font-size="8.5" text-anchor="middle" textLength="22" lengthAdjust="spacingAndGlyphs" fill="#231f20" style="font-family:"Liberation Sans", sans-serif">48 hpi</text>
<line x1="59.25" y1="318.25" x2="111.75" y2="318.25" stroke="#3a3a3a" stroke-width="1.15"/>
<text x="85.5" y="317.65" font-size="7.8" text-anchor="middle" fill="#231f20" style="font-family:"Liberation Sans", sans-serif">*</text>
<text x="237" y="292.3" font-size="10.0" textLength="59.3" lengthAdjust="spacingAndGlyphs" fill="#231f20" style="font-family:"Liberation Sans", sans-serif">BM Neutrophil</text>
<rect x="282" y="299.5" width="8" height="4.8" fill="#a13445"/>
<rect x="282" y="308.1" width="8" height="4.8" fill="#4d6283"/>
<text x="292.7" y="304.5" font-size="7.3" fill="#231f20" style="font-family:"Liberation Sans", sans-serif">WT</text>
<text x="292.7" y="312.7" font-size="7.3" textLength="16.4" lengthAdjust="spacingAndGlyphs" fill="#231f20" style="font-family:"Liberation Sans", sans-serif">Cxcl1</text>
<text x="310.4" y="309.1" font-size="4.6" textLength="4.8" lengthAdjust="spacingAndGlyphs" fill="#555" style="font-family:"Liberation Sans", sans-serif">-/-</text>
<text transform="translate(195.2,346.6) rotate(-90)" x="0" y="0" font-size="9.4" text-anchor="middle" textLength="67.5" lengthAdjust="spacingAndGlyphs" fill="#231f20" style="font-family:"Liberation Sans", sans-serif">Numbers (x 10<tspan font-size="5.5" dy="-3">6</tspan><tspan dy="3">)</tspan></text>
<line x1="215" y1="312" x2="215" y2="383.75" stroke="#231f20" stroke-width="1"/>
<line x1="211.9" y1="314.5" x2="215" y2="314.5" stroke="#231f20" stroke-width="1"/>
<text x="209.6" y="317.0" font-size="8.4" text-anchor="end" textLength="7.7" lengthAdjust="spacingAndGlyphs" fill="#231f20" style="font-family:"Liberation Sans", sans-serif">15</text>
<line x1="211.9" y1="337.5" x2="215" y2="337.5" stroke="#231f20" stroke-width="1"/>
<text x="209.6" y="340.0" font-size="8.4" text-anchor="end" textLength="7.7" lengthAdjust="spacingAndGlyphs" fill="#231f20" style="font-family:"Liberation Sans", sans-serif">10</text>
<line x1="211.9" y1="360.5" x2="215" y2="360.5" stroke="#231f20" stroke-width="1"/>
<text x="209.6" y="363.0" font-size="8.4" text-anchor="end" textLength="3.7" lengthAdjust="spacingAndGlyphs" fill="#231f20" style="font-family:"Liberation Sans", sans-serif">5</text>
<line x1="211.9" y1="383.25" x2="215" y2="383.25" stroke="#231f20" stroke-width="1"/>
<text x="209.6" y="385.75" font-size="8.4" text-anchor="end" textLength="3.7" lengthAdjust="spacingAndGlyphs" fill="#231f20" style="font-family:"Liberation Sans", sans-serif">0</text>
<line x1="226.0" y1="363.25" x2="226.0" y2="362" stroke="#333" stroke-width="0.9"/>
<line x1="223.06" y1="362" x2="228.94" y2="362" stroke="#333" stroke-width="0.9"/>
<rect x="220.5" y="363.75" width="11" height="19.5" fill="#a13445" stroke="#8c1d31" stroke-width="1"/>
<line x1="242.125" y1="352.75" x2="242.125" y2="348" stroke="#333" stroke-width="0.9"/>
<line x1="239.24625" y1="348" x2="245.00375" y2="348" stroke="#333" stroke-width="0.9"/>
<rect x="236.75" y="353.25" width="10.75" height="30.0" fill="#a13445" stroke="#8c1d31" stroke-width="1"/>
<line x1="258.5" y1="346.25" x2="258.5" y2="338.25" stroke="#333" stroke-width="0.9"/>
<line x1="255.56" y1="338.25" x2="261.44" y2="338.25" stroke="#333" stroke-width="0.9"/>
<rect x="253.0" y="346.75" width="11.0" height="36.5" fill="#a13445" stroke="#8c1d31" stroke-width="1"/>
<line x1="274.625" y1="355.25" x2="274.625" y2="351.5" stroke="#333" stroke-width="0.9"/>
<line x1="271.74625" y1="351.5" x2="277.50375" y2="351.5" stroke="#333" stroke-width="0.9"/>
<rect x="269.25" y="355.75" width="10.75" height="27.5" fill="#4d6283" stroke="#374c72" stroke-width="1"/>
<line x1="290.875" y1="344.5" x2="290.875" y2="339.75" stroke="#333" stroke-width="0.9"/>
<line x1="287.99625" y1="339.75" x2="293.75375" y2="339.75" stroke="#333" stroke-width="0.9"/>
<rect x="285.5" y="345.0" width="10.75" height="38.25" fill="#4d6283" stroke="#374c72" stroke-width="1"/>
<line x1="307.125" y1="351" x2="307.125" y2="346.25" stroke="#333" stroke-width="0.9"/>
<line x1="304.24625" y1="346.25" x2="310.00375" y2="346.25" stroke="#333" stroke-width="0.9"/>
<rect x="301.75" y="351.5" width="10.75" height="31.75" fill="#4d6283" stroke="#374c72" stroke-width="1"/>
<line x1="214.5" y1="383.25" x2="317.5" y2="383.25" stroke="#231f20" stroke-width="1"/>
<line x1="225.75" y1="383.25" x2="225.75" y2="386.25" stroke="#231f20" stroke-width="1"/>
<line x1="242" y1="383.25" x2="242" y2="386.25" stroke="#231f20" stroke-width="1"/>
<line x1="258.25" y1="383.25" x2="258.25" y2="386.25" stroke="#231f20" stroke-width="1"/>
<line x1="274.5" y1="383.25" x2="274.5" y2="386.25" stroke="#231f20" stroke-width="1"/>
<line x1="290.75" y1="383.25" x2="290.75" y2="386.25" stroke="#231f20" stroke-width="1"/>
<line x1="307" y1="383.25" x2="307" y2="386.25" stroke="#231f20" stroke-width="1"/>
<line x1="223" y1="343.25" x2="242" y2="343.25" stroke="#3a3a3a" stroke-width="1.15"/>
<text x="232.5" y="342.65" font-size="7.8" text-anchor="middle" fill="#231f20" style="font-family:"Liberation Sans", sans-serif">*</text>
<line x1="223" y1="334.75" x2="258.25" y2="334.75" stroke="#3a3a3a" stroke-width="1.15"/>
<text x="240.625" y="334.15" font-size="7.8" text-anchor="middle" fill="#231f20" style="font-family:"Liberation Sans", sans-serif">**</text>
<line x1="223" y1="326.25" x2="274.5" y2="326.25" stroke="#3a3a3a" stroke-width="1.15"/>
<text x="248.75" y="325.65" font-size="7.8" text-anchor="middle" fill="#231f20" style="font-family:"Liberation Sans", sans-serif">*</text>
<line x1="274.5" y1="334.75" x2="290.75" y2="334.75" stroke="#3a3a3a" stroke-width="1.15"/>
<text x="282.625" y="334.15" font-size="7.8" text-anchor="middle" fill="#231f20" style="font-family:"Liberation Sans", sans-serif">*</text>
<text transform="translate(228.75,394.6) rotate(-45)" x="0" y="0" font-size="7.95" text-anchor="end" fill="#231f20" style="font-family:"Liberation Sans", sans-serif">Vehicle</text>
<text transform="translate(245.0,394.6) rotate(-45)" x="0" y="0" font-size="7.95" text-anchor="end" fill="#231f20" style="font-family:"Liberation Sans", sans-serif">TAPI-O</text>
<text transform="translate(261.25,394.6) rotate(-45)" x="0" y="0" font-size="7.95" text-anchor="end" fill="#231f20" style="font-family:"Liberation Sans", sans-serif">Anti-CD49d</text>
<text transform="translate(277.5,394.6) rotate(-45)" x="0" y="0" font-size="7.95" text-anchor="end" fill="#231f20" style="font-family:"Liberation Sans", sans-serif">Vehicle</text>
<text transform="translate(293.75,394.6) rotate(-45)" x="0" y="0" font-size="7.95" text-anchor="end" fill="#231f20" style="font-family:"Liberation Sans", sans-serif">TAPI-O</text>
<text transform="translate(310.0,394.6) rotate(-45)" x="0" y="0" font-size="7.95" text-anchor="end" fill="#231f20" style="font-family:"Liberation Sans", sans-serif">Anti-CD49d</text>
<text x="385.5" y="292.3" font-size="10.0" textLength="70" lengthAdjust="spacingAndGlyphs" fill="#231f20" style="font-family:"Liberation Sans", sans-serif">Blood Neutrophil</text>
<rect x="435.5" y="299.5" width="8" height="4.8" fill="#a13445"/>
<rect x="435.5" y="308.1" width="8" height="4.8" fill="#4d6283"/>
<text x="446.2" y="304.5" font-size="7.3" fill="#231f20" style="font-family:"Liberation Sans", sans-serif">WT</text>
<text x="446.2" y="312.7" font-size="7.3" textLength="16.4" lengthAdjust="spacingAndGlyphs" fill="#231f20" style="font-family:"Liberation Sans", sans-serif">Cxcl1</text>
<text x="463.9" y="309.1" font-size="4.6" textLength="4.8" lengthAdjust="spacingAndGlyphs" fill="#555" style="font-family:"Liberation Sans", sans-serif">-/-</text>
<text transform="translate(349,347.2) rotate(-90)" x="0" y="0" font-size="9.8" text-anchor="middle" textLength="69" lengthAdjust="spacingAndGlyphs" fill="#231f20" style="font-family:"Liberation Sans", sans-serif">% of CD45+ cells</text>
<line x1="369.25" y1="312" x2="369.25" y2="383.75" stroke="#231f20" stroke-width="1"/>
<line x1="366.15" y1="315" x2="369.25" y2="315" stroke="#231f20" stroke-width="1"/>
<text x="363.6" y="317.5" font-size="8.4" text-anchor="end" textLength="7.7" lengthAdjust="spacingAndGlyphs" fill="#231f20" style="font-family:"Liberation Sans", sans-serif">30</text>
<line x1="366.15" y1="337.75" x2="369.25" y2="337.75" stroke="#231f20" stroke-width="1"/>
<text x="363.6" y="340.25" font-size="8.4" text-anchor="end" textLength="7.7" lengthAdjust="spacingAndGlyphs" fill="#231f20" style="font-family:"Liberation Sans", sans-serif">20</text>
<line x1="366.15" y1="360.5" x2="369.25" y2="360.5" stroke="#231f20" stroke-width="1"/>
<text x="363.6" y="363.0" font-size="8.4" text-anchor="end" textLength="7.7" lengthAdjust="spacingAndGlyphs" fill="#231f20" style="font-family:"Liberation Sans", sans-serif">10</text>
<line x1="366.15" y1="383.25" x2="369.25" y2="383.25" stroke="#231f20" stroke-width="1"/>
<text x="363.6" y="385.75" font-size="8.4" text-anchor="end" textLength="3.7" lengthAdjust="spacingAndGlyphs" fill="#231f20" style="font-family:"Liberation Sans", sans-serif">0</text>
<line x1="380.0" y1="340.75" x2="380.0" y2="335" stroke="#333" stroke-width="0.9"/>
<line x1="377.1825" y1="335" x2="382.8175" y2="335" stroke="#333" stroke-width="0.9"/>
<rect x="374.75" y="341.25" width="10.5" height="42.0" fill="#a13445" stroke="#8c1d31" stroke-width="1"/>
<line x1="396.125" y1="364.25" x2="396.125" y2="358.75" stroke="#333" stroke-width="0.9"/>
<line x1="393.36875" y1="358.75" x2="398.88125" y2="358.75" stroke="#333" stroke-width="0.9"/>
<rect x="391.0" y="364.75" width="10.25" height="18.5" fill="#a13445" stroke="#8c1d31" stroke-width="1"/>
<line x1="412.375" y1="360.5" x2="412.375" y2="359.5" stroke="#333" stroke-width="0.9"/>
<line x1="409.61875" y1="359.5" x2="415.13125" y2="359.5" stroke="#333" stroke-width="0.9"/>
<rect x="407.25" y="361.0" width="10.25" height="22.25" fill="#a13445" stroke="#8c1d31" stroke-width="1"/>
<line x1="428.5" y1="362" x2="428.5" y2="356.25" stroke="#333" stroke-width="0.9"/>
<line x1="425.6825" y1="356.25" x2="431.3175" y2="356.25" stroke="#333" stroke-width="0.9"/>
<rect x="423.25" y="362.5" width="10.5" height="20.75" fill="#4d6283" stroke="#374c72" stroke-width="1"/>
<line x1="444.75" y1="365" x2="444.75" y2="359.5" stroke="#333" stroke-width="0.9"/>
<line x1="441.9325" y1="359.5" x2="447.5675" y2="359.5" stroke="#333" stroke-width="0.9"/>
<rect x="439.5" y="365.5" width="10.5" height="17.75" fill="#4d6283" stroke="#374c72" stroke-width="1"/>
<line x1="460.875" y1="358.25" x2="460.875" y2="352.5" stroke="#333" stroke-width="0.9"/>
<line x1="457.99625" y1="352.5" x2="463.75375" y2="352.5" stroke="#333" stroke-width="0.9"/>
<rect x="455.5" y="358.75" width="10.75" height="24.5" fill="#4d6283" stroke="#374c72" stroke-width="1"/>
<line x1="368.75" y1="383.25" x2="471.25" y2="383.25" stroke="#231f20" stroke-width="1"/>
<line x1="380" y1="383.25" x2="380" y2="386.25" stroke="#231f20" stroke-width="1"/>
<line x1="396.25" y1="383.25" x2="396.25" y2="386.25" stroke="#231f20" stroke-width="1"/>
<line x1="412.5" y1="383.25" x2="412.5" y2="386.25" stroke="#231f20" stroke-width="1"/>
<line x1="428.75" y1="383.25" x2="428.75" y2="386.25" stroke="#231f20" stroke-width="1"/>
<line x1="445" y1="383.25" x2="445" y2="386.25" stroke="#231f20" stroke-width="1"/>
<line x1="461.25" y1="383.25" x2="461.25" y2="386.25" stroke="#231f20" stroke-width="1"/>
<line x1="377" y1="331.25" x2="395.75" y2="331.25" stroke="#3a3a3a" stroke-width="1.15"/>
<text x="386.375" y="330.65" font-size="7.8" text-anchor="middle" fill="#231f20" style="font-family:"Liberation Sans", sans-serif">**</text>
<line x1="377" y1="323" x2="412" y2="323" stroke="#3a3a3a" stroke-width="1.15"/>
<text x="394.5" y="322.4" font-size="7.8" text-anchor="middle" fill="#231f20" style="font-family:"Liberation Sans", sans-serif">**</text>
<line x1="377" y1="315" x2="428.25" y2="315" stroke="#3a3a3a" stroke-width="1.15"/>
<text x="402.625" y="314.4" font-size="7.8" text-anchor="middle" fill="#231f20" style="font-family:"Liberation Sans", sans-serif">**</text>
<text transform="translate(383.0,394.6) rotate(-45)" x="0" y="0" font-size="7.95" text-anchor="end" fill="#231f20" style="font-family:"Liberation Sans", sans-serif">Vehicle</text>
<text transform="translate(399.25,394.6) rotate(-45)" x="0" y="0" font-size="7.95" text-anchor="end" fill="#231f20" style="font-family:"Liberation Sans", sans-serif">TAPI-O</text>
<text transform="translate(415.5,394.6) rotate(-45)" x="0" y="0" font-size="7.95" text-anchor="end" fill="#231f20" style="font-family:"Liberation Sans", sans-serif">Anti-CD49d</text>
<text transform="translate(431.75,394.6) rotate(-45)" x="0" y="0" font-size="7.95" text-anchor="end" fill="#231f20" style="font-family:"Liberation Sans", sans-serif">Vehicle</text>
<text transform="translate(448.0,394.6) rotate(-45)" x="0" y="0" font-size="7.95" text-anchor="end" fill="#231f20" style="font-family:"Liberation Sans", sans-serif">TAPI-O</text>
<text transform="translate(464.25,394.6) rotate(-45)" x="0" y="0" font-size="7.95" text-anchor="end" fill="#231f20" style="font-family:"Liberation Sans", sans-serif">Anti-CD49d</text>
<rect x="112" y="163.3" width="10.7" height="10.2" fill="#d4943c"/>
<text x="125.8" y="171.10000000000002" font-size="7.6" textLength="23" lengthAdjust="spacingAndGlyphs" fill="#231f20" style="font-family:"Liberation Sans", sans-serif">Isotype</text>
<rect x="112" y="175.4" width="10.7" height="10.2" fill="#6c4a6c"/>
<text x="125.8" y="183.20000000000002" font-size="7.6" textLength="30.4" lengthAdjust="spacingAndGlyphs" fill="#231f20" style="font-family:"Liberation Sans", sans-serif">WT + PBS</text>
<rect x="112" y="187.4" width="10.7" height="10.2" fill="#4e6282"/>
<text x="125.8" y="195.20000000000002" font-size="7.6" textLength="26.7" lengthAdjust="spacingAndGlyphs" fill="#231f20" style="font-family:"Liberation Sans", sans-serif">WT + Sp</text>
<rect x="112" y="199.4" width="10.7" height="10.2" fill="#7aa85a"/>
<text x="125.8" y="207.20000000000002" font-size="7.6" textLength="29.5" lengthAdjust="spacingAndGlyphs" fill="#231f20" style="font-family:"Liberation Sans", sans-serif">KO + PBS</text>
<rect x="112" y="211.75" width="10.7" height="10.2" fill="#a23646"/>
<text x="125.8" y="219.55" font-size="7.6" textLength="25.8" lengthAdjust="spacingAndGlyphs" fill="#231f20" style="font-family:"Liberation Sans", sans-serif">KO + Sp</text>
<rect x="464" y="163.3" width="10.7" height="10.2" fill="#d4943c"/>
<text x="477.8" y="171.10000000000002" font-size="7.6" textLength="23" lengthAdjust="spacingAndGlyphs" fill="#231f20" style="font-family:"Liberation Sans", sans-serif">Isotype</text>
<rect x="464" y="175.4" width="10.7" height="10.2" fill="#6c4a6c"/>
<text x="477.8" y="183.20000000000002" font-size="7.6" textLength="30.4" lengthAdjust="spacingAndGlyphs" fill="#231f20" style="font-family:"Liberation Sans", sans-serif">WT + PBS</text>
<rect x="464" y="187.4" width="10.7" height="10.2" fill="#4e6282"/>
<text x="477.8" y="195.20000000000002" font-size="7.6" textLength="26.7" lengthAdjust="spacingAndGlyphs" fill="#231f20" style="font-family:"Liberation Sans", sans-serif">WT + Sp</text>
<rect x="464" y="199.4" width="10.7" height="10.2" fill="#7aa85a"/>
<text x="477.8" y="207.20000000000002" font-size="7.6" textLength="29.5" lengthAdjust="spacingAndGlyphs" fill="#231f20" style="font-family:"Liberation Sans", sans-serif">KO + PBS</text>
<rect x="464" y="211.75" width="10.7" height="10.2" fill="#a23646"/>
<text x="477.8" y="219.55" font-size="7.6" textLength="25.8" lengthAdjust="spacingAndGlyphs" fill="#231f20" style="font-family:"Liberation Sans", sans-serif">KO + Sp</text>
<rect x="0" y="0" width="520" height="1" fill="#4d4d4d"/>
<rect x="0" y="1" width="520" height="1" fill="#d0d0d0"/>
<rect x="0" y="433" width="520" height="1" fill="#4d4d4d"/>
<rect x="0" y="432" width="520" height="1" fill="#d0d0d0"/>
<rect x="0" y="0" width="1" height="434" fill="#000"/>
<rect x="519" y="0" width="1" height="434" fill="#000"/>
</svg>
</body></html>
